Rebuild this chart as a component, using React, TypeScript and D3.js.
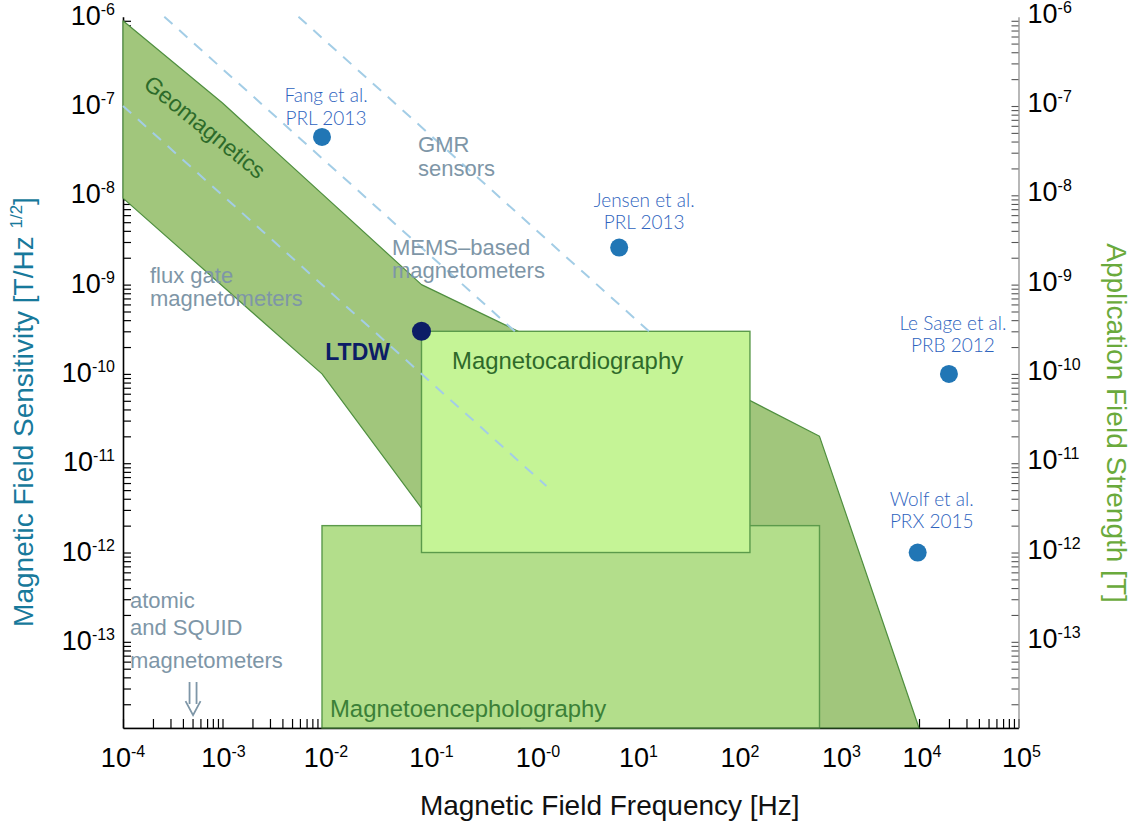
import * as d3 from "d3";
import { useEffect, useRef } from "react";

const WIDTH = 1134;
const HEIGHT = 824;
const FONT = "'Liberation Sans', Arial, Helvetica, sans-serif";
const CITE_FONT = "Lato, 'Open Sans', sans-serif";

// axis extents
const FREQ_MIN = 1e-4;
const FREQ_MAX = 1e5;
const FIELD_MIN = 1.084e-14;
const FIELD_MAX = 1e-6;

const xTickExponents = [-4, -3, -2, -1, 0, 1, 2, 3, 4, 5];
const xTickSuper = ["-4", "-3", "-2", "-1", "-0", "1", "2", "3", "4", "5"];
const yTickExponents = [-6, -7, -8, -9, -10, -11, -12, -13];

// geomagnetics band outline (Hz, T)
const geoFreq = [1e-4, 1e-3, 0.1, 2, 100, 1e3, 1e4, 1, 0.5, 1e-2, 1e-4];
const geoField = [9e-7, 1.08e-7, 1e-9, 2e-10, 7.5e-11, 2e-11, FIELD_MIN, FIELD_MIN, 2.8e-13, 1e-10, 9.3e-9];

// application regions
const boxNames = ["Magnetoencepholography", "Magnetocardiography"];
const boxFreqLo = [1e-2, 0.1];
const boxFreqHi = [1e3, 200];
const boxFieldLo = [FIELD_MIN, 1e-12];
const boxFieldHi = [2e-12, 3e-10];

// sensor limits, B = c / f
const trendCoef = [1e-11, 2.6e-10, 5.8e-9];
const trendEndFreq = [1.8, 0.9, 20];

// published sensitivities
const refAuthors = ["Fang et al.", "Jensen et al.", "Le Sage et al.", "Wolf et al."];
const refJournals = ["PRL 2013", "PRL 2013", "PRB 2012", "PRX 2015"];
const refFreq = [1e-2, 9.7, 2e4, 9.7e3];
const refField = [4.5e-8, 2.6e-9, 1e-10, 1e-12];

const ltdwFreq = [0.1];
const ltdwField = [3e-10];

export default function App() {
  const svgRef = useRef<SVGSVGElement>(null);

  useEffect(() => {
    if (!svgRef.current) return;
    const svg = d3.select(svgRef.current);
    svg.selectAll("*").remove();

    const x = d3.scaleLog().domain([FREQ_MIN, FREQ_MAX]).range([123, 1018.5]);
    const y = d3.scaleLog().domain([FIELD_MIN, FIELD_MAX]).range([728, 16.7]);
    const [x0, x1] = x.range();
    const [yBottom] = y.range();

    // minor tick values
    const xMinor = d3
      .range(-4, 5)
      .flatMap((e) => d3.range(1, 10).map((k) => k * 10 ** e))
      .concat([FREQ_MAX]);
    const yMinor = d3
      .range(-14, -6)
      .flatMap((e) => d3.range(1, 10).map((k) => k * 10 ** e))
      .filter((v) => v >= FIELD_MIN && v <= FIELD_MAX * 1.0001);

    // axes
    svg
      .append("g")
      .attr("transform", `translate(0,${yBottom})`)
      .call(d3.axisBottom(x).tickValues(xMinor).tickSize(-9).tickSizeOuter(0).tickFormat(() => ""))
      .call((g) => g.select(".domain").attr("stroke-width", 1.6))
      .call((g) => g.selectAll(".tick line").attr("stroke-width", 1.2));

    svg
      .append("g")
      .attr("transform", `translate(${x0},0)`)
      .call(d3.axisLeft(y).tickValues(yMinor).tickSize(-8).tickSizeOuter(0).tickFormat(() => ""))
      .call((g) => g.select(".domain").attr("stroke-width", 1.6))
      .call((g) => g.selectAll(".tick line").attr("stroke-width", 1.2));

    svg
      .append("g")
      .attr("transform", `translate(${x1},0)`)
      .attr("color", "#555")
      .call(d3.axisRight(y).tickValues(yMinor).tickSize(-7).tickSizeOuter(0).tickFormat(() => ""))
      .call((g) => g.select(".domain").attr("stroke", "#888").attr("stroke-width", 1.2))
      .call((g) => g.selectAll(".tick line").attr("stroke-width", 1.1));

    // tick labels
    const xLabelNudge = [0, 1, 4, 10, 17, 18, 20, 22, 3, 3];
    const xl = svg
      .append("g")
      .attr("font-family", FONT)
      .attr("font-size", 27)
      .attr("text-anchor", "middle");
    xTickExponents.forEach((e, i) => {
      const t = xl
        .append("text")
        .attr("x", x(10 ** e) + xLabelNudge[i])
        .attr("y", 767);
      t.append("tspan").text("10");
      t.append("tspan").attr("dy", -10).attr("font-size", 16).text(xTickSuper[i]);
    });

    const yl = svg.append("g").attr("font-family", FONT).attr("font-size", 27);
    yTickExponents.forEach((e) => {
      const left = yl
        .append("text")
        .attr("text-anchor", "end")
        .attr("x", x0 - 8)
        .attr("y", y(10 ** e) + 8);
      left.append("tspan").text("10");
      left.append("tspan").attr("dy", -10).attr("font-size", 16).text(String(e));

      const right = yl
        .append("text")
        .attr("x", x1 + 9)
        .attr("y", y(10 ** e) + 6);
      right.append("tspan").text("10");
      right.append("tspan").attr("dy", -10).attr("font-size", 16).text(String(e));
    });

    // axis titles
    svg
      .append("text")
      .attr("transform", `translate(${(x0 + x1) / 2 + 39},815)`)
      .attr("text-anchor", "middle")
      .attr("font-family", FONT)
      .attr("font-size", 28)
      .attr("fill", "#111")
      .text("Magnetic Field Frequency [Hz]");

    const yTitle = svg
      .append("text")
      .attr("transform", "translate(33,412) rotate(-90)")
      .attr("text-anchor", "middle")
      .attr("font-family", FONT)
      .attr("font-size", 28)
      .attr("fill", "#17799b");
    yTitle.append("tspan").text("Magnetic Field Sensitivity [T/Hz ");
    yTitle.append("tspan").attr("dy", -11).attr("font-size", 17).text("1/2");
    yTitle.append("tspan").attr("dy", 11).text("]");

    svg
      .append("text")
      .attr("transform", "translate(1107,423) rotate(90)")
      .attr("text-anchor", "middle")
      .attr("font-family", FONT)
      .attr("font-size", 28)
      .attr("fill", "#6aaa3c")
      .text("Application Field Strength [T]");

    // geomagnetics band
    const line = d3
      .line<[number, number]>()
      .x((d) => x(d[0]))
      .y((d) => y(d[1]));
    const geo: [number, number][] = geoFreq.map((f, i) => [f, geoField[i]]);
    svg
      .append("path")
      .attr("d", line(geo) + "Z")
      .attr("fill", "#a1c67c")
      .attr("stroke", "#4f8f3f")
      .attr("stroke-width", 1.2)
      .attr("stroke-linejoin", "round");

    // application boxes
    const boxFill = ["#b3de8b", "#c5f496"];
    svg
      .selectAll(".app-box")
      .data(boxNames)
      .enter()
      .append("rect")
      .attr("class", "app-box")
      .attr("x", (_, i) => x(boxFreqLo[i]))
      .attr("y", (_, i) => y(boxFieldHi[i]))
      .attr("width", (_, i) => x(boxFreqHi[i]) - x(boxFreqLo[i]))
      .attr("height", (_, i) => y(boxFieldLo[i]) - y(boxFieldHi[i]))
      .attr("fill", (_, i) => boxFill[i])
      .attr("stroke", "#5b9a4b")
      .attr("stroke-width", 1.4);

    // bottom axis line over the box edge
    svg
      .append("line")
      .attr("x1", x0)
      .attr("x2", x1)
      .attr("y1", yBottom)
      .attr("y2", yBottom)
      .attr("stroke", "#000")
      .attr("stroke-width", 1.2)
      .attr("opacity", 0.35);

    // dashed sensor limit lines
    trendCoef.forEach((c, i) => {
      const fStart = Math.max(FREQ_MIN, c / FIELD_MAX);
      const fEnd = trendEndFreq[i];
      svg
        .append("path")
        .attr(
          "d",
          line([
            [fStart, c / fStart],
            [fEnd, c / fEnd],
          ]),
        )
        .attr("fill", "none")
        .attr("stroke", "#a3cde6")
        .attr("stroke-width", 2)
        .attr("stroke-dasharray", "11,9");
    });

    // text annotations, anchored in data space (log10 of Hz, log10 of T)
    const at = (lf: number, lb: number): [number, number] => [x(10 ** lf), y(10 ** lb)];
    const noteColor = "#7e96a7";
    const notes: { pos: [number, number]; lines: string[]; dy: number[] }[] = [
      { pos: at(-1.035, -7.515), lines: ["GMR", "sensors"], dy: [0, 24] },
      { pos: at(-3.729, -8.982), lines: ["flux gate", "magnetometers"], dy: [0, 23] },
      { pos: at(-1.296, -8.669), lines: ["MEMS–based", "magnetometers"], dy: [0, 23] },
      { pos: at(-3.93, -12.622), lines: ["atomic", "and SQUID", "magnetometers"], dy: [0, 27, 60] },
    ];
    notes.forEach((n) => {
      const t = svg
        .append("text")
        .attr("font-family", FONT)
        .attr("font-size", 22)
        .attr("fill", noteColor);
      n.lines.forEach((l, j) => {
        t.append("tspan")
          .attr("x", n.pos[0])
          .attr("y", n.pos[1] + n.dy[j])
          .text(l);
      });
    });

    // arrow under atomic/SQUID
    const [ax, ay] = at(-3.296, -12.622);
    svg
      .append("path")
      .attr(
        "d",
        `M${ax - 3.5},${ay + 74}V${ay + 96}M${ax + 3.5},${ay + 74}V${ay + 96}` +
          `M${ax - 7.5},${ay + 93}L${ax},${ay + 107}L${ax + 7.5},${ay + 93}`,
      )
      .attr("fill", "none")
      .attr("stroke", noteColor)
      .attr("stroke-width", 1.8);

    // region labels
    const [gx, gy] = at(-3.176, -7.235);
    svg
      .append("text")
      .attr("transform", `translate(${gx},${gy}) rotate(39)`)
      .attr("text-anchor", "middle")
      .attr("dy", "0.35em")
      .attr("font-family", FONT)
      .attr("font-size", 23)
      .attr("fill", "#2d6b2a")
      .text("Geomagnetics");

    const [cx, cy] = at(-0.693, -9.945);
    svg
      .append("text")
      .attr("x", cx)
      .attr("y", cy)
      .attr("font-family", FONT)
      .attr("font-size", 23.9)
      .attr("fill", "#2e6a2a")
      .text(boxNames[1]);

    const [ex, ey] = at(-1.92, -13.842);
    svg
      .append("text")
      .attr("x", ex)
      .attr("y", ey)
      .attr("font-family", FONT)
      .attr("font-size", 23.9)
      .attr("fill", "#3b8038")
      .text(boxNames[0]);

    // reference points
    const citeNudge = [
      [4, -35, -12],
      [25, -41, -19],
      [4, -44, -22],
      [14, -47, -25],
    ];
    refAuthors.forEach((a, i) => {
      const px = x(refFreq[i]);
      const py = y(refField[i]);
      svg
        .append("circle")
        .attr("cx", px)
        .attr("cy", py)
        .attr("r", 9)
        .attr("fill", "#2176b5");
      const t = svg
        .append("text")
        .attr("text-anchor", "middle")
        .attr("font-family", CITE_FONT)
        .attr("font-weight", 300)
        .attr("font-size", 19)
        .attr("fill", "#2e63be");
      t.append("tspan")
        .attr("x", px + citeNudge[i][0])
        .attr("y", py + citeNudge[i][1])
        .text(a);
      t.append("tspan")
        .attr("x", px + citeNudge[i][0])
        .attr("y", py + citeNudge[i][2])
        .text(refJournals[i]);
    });

    // LTDW
    svg
      .selectAll(".ltdw")
      .data(ltdwFreq)
      .enter()
      .append("circle")
      .attr("class", "ltdw")
      .attr("cx", (d) => x(d))
      .attr("cy", (_, i) => y(ltdwField[i]))
      .attr("r", 9.5)
      .attr("fill", "#0c1d66");

    const [lx, ly] = at(-1.317, -9.844);
    svg
      .append("text")
      .attr("x", lx)
      .attr("y", ly)
      .attr("text-anchor", "end")
      .attr("font-family", FONT)
      .attr("font-weight", "bold")
      .attr("font-size", 23)
      .attr("fill", "#0c1d66")
      .text("LTDW");
  }, []);

  return (
    <svg
      ref={svgRef}
      width={WIDTH}
      height={HEIGHT}
      style={{ position: "absolute", left: 0, top: 0, display: "block", background: "#fff" }}
    />
  );
}
